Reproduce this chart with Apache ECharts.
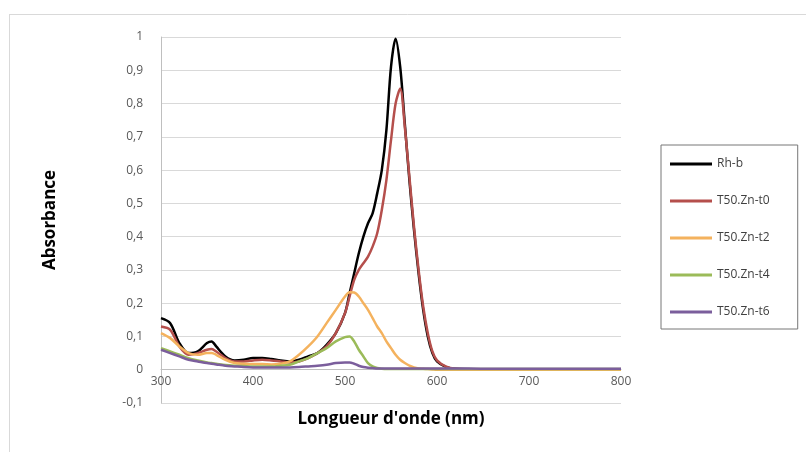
<!DOCTYPE html>
<html>
<head>
<meta charset="utf-8">
<script src="https://cdn.jsdelivr.net/npm/echarts@6/dist/echarts.min.js"></script>
<style>
html,body{margin:0;padding:0;background:#fff;}
#chart{width:806px;height:452px;}
</style>
</head>
<body>
<div id="chart"></div>
<script>
var wavelengths = [300,310,320,330,340,350,355,360,370,380,390,400,410,420,430,440,450,460,470,480,490,500,505,510,515,520,525,530,535,540,545,550,555,560,565,570,575,580,585,590,595,600,610,620,650,700,750,800];
var rhb  = [0.155,0.14,0.08,0.05,0.055,0.08,0.085,0.07,0.04,0.028,0.03,0.035,0.035,0.032,0.028,0.025,0.03,0.04,0.05,0.075,0.11,0.17,0.23,0.29,0.35,0.40,0.44,0.47,0.53,0.60,0.72,0.91,0.995,0.91,0.74,0.57,0.42,0.29,0.18,0.10,0.05,0.025,0.008,0.003,0.001,0,0,0];
var t0   = [0.13,0.12,0.07,0.045,0.05,0.06,0.062,0.055,0.035,0.025,0.025,0.028,0.03,0.028,0.025,0.022,0.025,0.035,0.05,0.07,0.11,0.17,0.22,0.27,0.30,0.32,0.34,0.37,0.41,0.48,0.57,0.69,0.80,0.845,0.73,0.58,0.43,0.30,0.19,0.11,0.055,0.028,0.009,0.003,0.001,0,0,0];
var t2   = [0.11,0.095,0.07,0.05,0.045,0.05,0.05,0.045,0.03,0.02,0.018,0.017,0.017,0.016,0.018,0.025,0.045,0.07,0.10,0.14,0.18,0.22,0.233,0.232,0.22,0.20,0.18,0.155,0.13,0.11,0.085,0.065,0.045,0.03,0.02,0.012,0.007,0.004,0.003,0.002,0.001,0,0,0,0,0,0,0];
var t4   = [0.065,0.055,0.045,0.035,0.028,0.022,0.02,0.018,0.014,0.012,0.011,0.01,0.01,0.01,0.012,0.015,0.025,0.035,0.05,0.065,0.085,0.098,0.10,0.085,0.06,0.04,0.02,0.01,0.005,0.003,0.002,0.002,0.002,0.002,0.002,0.002,0.002,0.002,0.002,0.002,0.002,0.002,0.002,0.002,0.002,0.002,0.002,0.002];
var t6   = [0.06,0.05,0.04,0.03,0.025,0.02,0.018,0.016,0.012,0.01,0.008,0.007,0.007,0.007,0.007,0.007,0.008,0.01,0.012,0.015,0.02,0.022,0.022,0.018,0.012,0.008,0.006,0.005,0.004,0.004,0.004,0.004,0.004,0.004,0.004,0.004,0.004,0.004,0.004,0.004,0.004,0.004,0.004,0.004,0.003,0.003,0.003,0.003];
var seriesNames = ['Rh-b','T50.Zn-t0','T50.Zn-t2','T50.Zn-t4','T50.Zn-t6'];
var seriesValues = [rhb, t0, t2, t4, t6];
var colors = ['#000000','#b54f4c','#f4b25e','#9bbb59','#7b5e9c'];

function pairs(vals){ return wavelengths.map(function(w,i){ return [w, vals[i]]; }); }

var chart = echarts.init(document.getElementById('chart'));
chart.setOption({
  animation: false,
  backgroundColor: '#fff',
  textStyle: {fontFamily: 'Open Sans, Liberation Sans, sans-serif'},
  graphic: [
    {type:'line', shape:{x1:9,y1:14.5,x2:806,y2:14.5}, style:{stroke:'#d9d9d9', lineWidth:1}},
    {type:'line', shape:{x1:9.5,y1:14,x2:9.5,y2:452}, style:{stroke:'#d9d9d9', lineWidth:1}},
    {type:'text', x:50, y:220, rotation:Math.PI/2, style:{text:'Absorbance', font:'bold 17px "Open Sans", sans-serif', fill:'#000', align:'center', verticalAlign:'middle'}}
  ],
  grid: {left:161, right:185, top:37, bottom:49, outerBoundsMode:'none'},
  legend: {
    orient:'vertical', left:661, top:145,
    padding:[13,28,11,9], itemGap:25,
    borderColor:'#777', borderWidth:1,
    icon:'rect', itemWidth:42, itemHeight:3,
    textStyle:{color:'#404040', fontSize:12, fontFamily:'Open Sans, sans-serif'},
    data: seriesNames
  },
  xAxis: {
    type:'value', min:300, max:800, interval:100,
    offset:-33.3,
    axisLine:{onZero:false, lineStyle:{color:'#bfbfbf'}},
    axisTick:{show:false},
    splitLine:{show:false},
    axisLabel:{color:'#595959', fontSize:12, margin:6},
    name:'Longueur d\'onde (nm)', nameLocation:'middle', nameGap:41,
    nameTextStyle:{color:'#000', fontSize:17, fontWeight:'bold'}
  },
  yAxis: {
    type:'value', min:-0.1, max:1, interval:0.1,
    axisLine:{show:true, lineStyle:{color:'#bfbfbf'}},
    axisTick:{show:false},
    splitLine:{lineStyle:{color:'#d9d9d9'}},
    axisLabel:{color:'#595959', fontSize:12, margin:18,
      formatter:function(v){ var r=Math.round(v*10)/10; return String(r).replace('.', ','); }}
  },
  series: seriesNames.map(function(n,i){
    return {name:n, type:'line', data:pairs(seriesValues[i]), smooth:0.3, showSymbol:false,
      lineStyle:{width:2.5, color:colors[i]}, itemStyle:{color:colors[i]}};
  })
});
</script>
</body>
</html>
